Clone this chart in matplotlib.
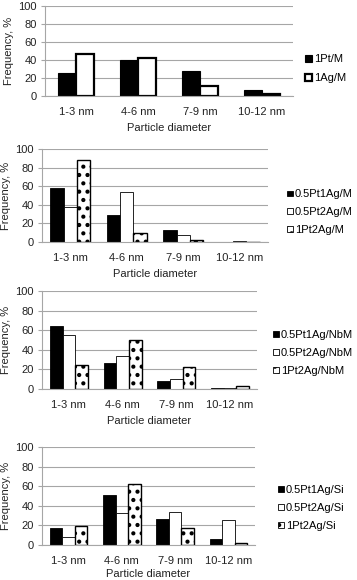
import numpy as np
import matplotlib
matplotlib.use("Agg")
import matplotlib.pyplot as plt

plt.rcParams['font.family'] = ['Liberation Sans', 'DejaVu Sans']
plt.rcParams['font.size'] = 8
plt.rcParams['hatch.linewidth'] = 1.8

sizes = ['1-3 nm', '4-6 nm', '7-9 nm', '10-12 nm']

# panel 1
p1_names = ['1Pt/M', '1Ag/M']
pt_m = [26, 40, 28, 7]
ag_m = [47, 42, 11, 2]

# panel 2
p2_names = ['0.5Pt1Ag/M', '0.5Pt2Ag/M', '1Pt2Ag/M']
pt1ag_m = [58, 29, 13, 0]
pt2ag_m = [38, 54, 7, 1]
pt2ag1_m = [88, 10, 2, 0]

# panel 3
p3_names = ['0.5Pt1Ag/NbM', '0.5Pt2Ag/NbM', '1Pt2Ag/NbM']
pt1ag_nb = [64, 27, 8, 1.5]
pt2ag_nb = [55, 34, 10, 1.5]
pt2ag1_nb = [24, 50, 22.5, 3.5]

# panel 4
p4_names = ['0.5Pt1Ag/Si', '0.5Pt2Ag/Si', '1Pt2Ag/Si']
pt1ag_si = [17.5, 51, 27, 6]
pt2ag_si = [8, 33, 34, 26]
pt2ag1_si = [19, 62, 17.5, 2.5]

GRID = '#a6a6a6'
FS = 8

fig = plt.figure(figsize=(3.57, 5.8), dpi=100)
W, H = 357.0, 580.0


def make_ax(left, right, top, bottom, xlpad=4):
    ax = fig.add_axes([left / W, 1 - bottom / H, (right - left) / W, (bottom - top) / H])
    ax.set_xlim(-0.5, 3.5)
    ax.set_ylim(0, 100)
    ax.set_yticks(range(0, 101, 20))
    ax.set_axisbelow(True)
    ax.grid(axis='y', color=GRID, lw=0.8)
    for s in ['top', 'right']:
        ax.spines[s].set_visible(False)
    for s in ['left', 'bottom']:
        ax.spines[s].set_color(GRID)
        ax.spines[s].set_linewidth(0.8)
    ax.tick_params(axis='y', length=3, color=GRID, pad=3, labelsize=FS, labelcolor='#222222')
    ax.tick_params(axis='x', length=0, pad=8, labelsize=FS, labelcolor='#222222')
    ax.set_xticks(range(4))
    ax.set_xticklabels(sizes)
    ax.set_xlabel('Particle diameter', fontsize=FS, labelpad=xlpad, color='#222222')
    ax.set_ylabel('Frequency, %', fontsize=FS, labelpad=3, color='#222222')
    return ax


x = np.arange(4)

ax1 = make_ax(45, 293, 6, 96)
w = 0.29
ax1.bar(x - w / 2, pt_m, w, color='black', edgecolor='black', lw=0.8, label=p1_names[0])
ax1.bar(x + w / 2, ag_m, w, color='white', edgecolor='black', lw=1.6, label=p1_names[1])
ax1.legend(loc='center left', bbox_to_anchor=(1.048, 0.305), frameon=False,
           handlelength=0.6, handleheight=0.6, handletextpad=0.25,
           labelspacing=0.8, fontsize=FS, borderaxespad=0, borderpad=0)


def three(ax, a, b, c, names, anchor):
    w = 0.236
    ax.bar(x - w, a, w, color='black', edgecolor='black', lw=0.6, label=names[0])
    ax.bar(x, b, w, color='white', edgecolor='black', lw=0.6, label=names[1])
    ax.bar(x + w, c, w, color='white', edgecolor='black', lw=1.0, hatch='..', label=names[2])
    leg = ax.legend(loc='center left', bbox_to_anchor=anchor, frameon=False,
                    handlelength=0.55, handleheight=0.45, handletextpad=0.15,
                    labelspacing=0.7, fontsize=FS, borderaxespad=0, borderpad=0)
    for h in leg.legend_handles:
        h.set_linewidth(0.6)


ax2 = make_ax(42, 268, 149, 242)
three(ax2, pt1ag_m, pt2ag_m, pt2ag1_m, p2_names, (1.084, 0.32))

ax3 = make_ax(42, 257, 291, 389)
three(ax3, pt1ag_nb, pt2ag_nb, pt2ag1_nb, p3_names, (1.074, 0.37))

ax4 = make_ax(42, 255, 447, 545, xlpad=2)
three(ax4, pt1ag_si, pt2ag_si, pt2ag1_si, p4_names, (1.108, 0.38))

fig.savefig('out.png', dpi=100)
